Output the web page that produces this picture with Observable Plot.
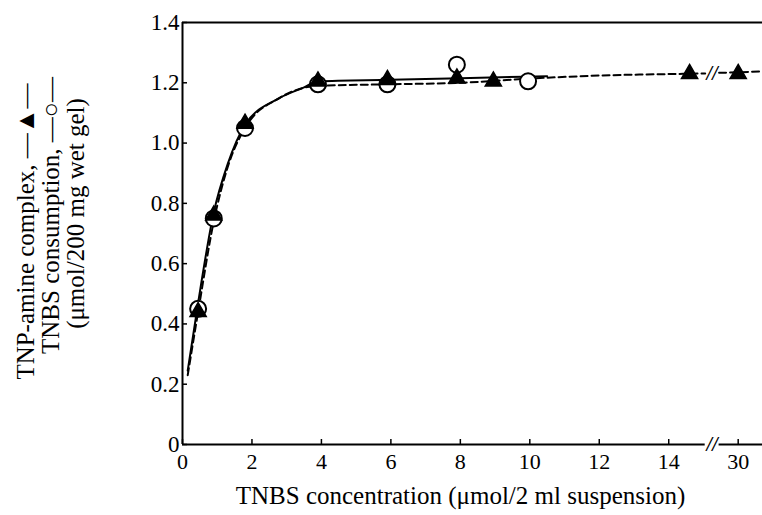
<!DOCTYPE html>
<html><head><meta charset="utf-8">
<script src="https://cdn.jsdelivr.net/npm/d3@7"></script>
<script src="https://cdn.jsdelivr.net/npm/@observablehq/plot@0.6"></script>
<style>body{margin:0;background:#fff} #chart svg{display:block}</style>
</head><body><div id="chart"></div>
<script>
// TNBS concentration (µmol / 2 ml suspension); 30 lies beyond the axis break
const circleX = [0.45, 0.9, 1.8, 3.9, 5.9, 7.9, 9.95];
const circleY = [0.45, 0.75, 1.05, 1.195, 1.195, 1.26, 1.205];
const triangleX = [0.45, 0.9, 1.8, 3.9, 5.9, 7.9, 8.95, 14.6, 30];
const triangleY = [0.44, 0.76, 1.065, 1.205, 1.21, 1.215, 1.205, 1.23, 1.23];
// fitted curves as drawn in the figure
const solidCurveX = [0.15, 0.45, 0.9, 1.3, 1.8, 2.8, 3.5, 3.9, 6, 8, 10.5];
const solidCurveY = [0.245, 0.47, 0.77, 0.93, 1.06, 1.15, 1.185, 1.205, 1.21, 1.215, 1.222];
const dashedCurveX = [0.15, 0.45, 0.9, 1.3, 1.8, 2.8, 3.9, 6, 8, 10, 12, 14.6, 15.05, 29.45, 30, 30.7];
const dashedCurveY = [0.23, 0.44, 0.74, 0.92, 1.05, 1.15, 1.19, 1.195, 1.2, 1.214, 1.224, 1.23, 1.231, 1.233, 1.235, 1.238];
const dashedSegment = [0, 0, 0, 0, 0, 0, 0, 0, 0, 0, 0, 0, 0, 1, 1, 1];
const xTicks = [0, 2, 4, 6, 8, 10, 12, 14, 30];
const yTicks = [0, 0.2, 0.4, 0.6, 0.8, 1.0, 1.2, 1.4];
const xTitle = "TNBS concentration (μmol/2 ml suspension)";
const yTitleLines = ["TNP-amine complex, —▲—", "TNBS consumption, —○—", "(μmol/200 mg wet gel)"];
const xMax = 30.7;
const breakGap = [15.05, 29.45];

// broken x axis: values beyond the break are shifted left
const brk = v => v >= 20 ? v - 14 : v;
const breakPos = (brk(breakGap[0]) + brk(breakGap[1])) / 2;

const circles = circleX.map((x, i) => ({x: brk(x), y: circleY[i]}));
const triangles = triangleX.map((x, i) => ({x: brk(x), y: triangleY[i]}));
const solid = solidCurveX.map((x, i) => ({x: brk(x), y: solidCurveY[i]}));
const dashed = dashedCurveX.map((x, i) => ({x: brk(x), y: dashedCurveY[i], z: dashedSegment[i]}));
const xAxisSegments = [{x1: 0, x2: brk(breakGap[0]), y: 0}, {x1: brk(breakGap[1]), x2: brk(xMax), y: 0}];
const breakMarks = [{x: breakPos, y: 0}, {x: breakPos, y: dashedCurveY[12]}];
const xLabel = new Map(xTicks.map(v => [brk(v), String(v)]));

const font = "'Liberation Serif', 'Times New Roman', serif";

const chart = Plot.plot({
  width: 762, height: 515,
  marginLeft: 182, marginRight: 0, marginTop: 22, marginBottom: 71,
  style: {fontFamily: font, fontSize: "22px", color: "black", background: "white", overflow: "visible"},
  x: {domain: [0, brk(xMax)]},
  y: {domain: [0, 1.4]},
  marks: [
    Plot.axisX({ticks: xTicks.map(brk), tickFormat: d => xLabel.get(d), tickSize: -5, tickPadding: 14, strokeWidth: 1.5, fontSize: 22, label: null}),
    Plot.axisY({ticks: yTicks, tickFormat: d => d === 0 ? "0" : d.toFixed(1), tickSize: -5, tickPadding: 8, strokeWidth: 1.5, fontSize: 23, label: null}),
    Plot.ruleX([0], {strokeWidth: 2}),
    Plot.ruleY([1.4], {strokeWidth: 2}),
    Plot.ruleY(xAxisSegments, {y: "y", x1: "x1", x2: "x2", strokeWidth: 2}),
    Plot.line(dashed, {x: "x", y: "y", z: "z", curve: "monotone-x", strokeWidth: 2, strokeDasharray: "7,4"}),
    Plot.line(solid, {x: "x", y: "y", curve: "monotone-x", strokeWidth: 2}),
    Plot.text(breakMarks, {x: "x", y: "y", text: () => "//", fontSize: 20, fontStyle: "italic", fontWeight: "bold"}),
    Plot.dot(circles, {x: "x", y: "y", r: 8, fill: "white", stroke: "black", strokeWidth: 2}),
    Plot.dot(triangles, {x: "x", y: "y", r: 6, symbol: "triangle", fill: "black", stroke: "black"}),
    Plot.text([xTitle], {text: d => d, frameAnchor: "bottom", dy: 51, dx: -12, fontSize: 25, lineAnchor: "middle", fill: "black"}),
    Plot.text([yTitleLines[0]], {text: d => d, frameAnchor: "left", textAnchor: "middle", rotate: -90, dx: -157, dy: -2, fontSize: 25, lineAnchor: "middle", fill: "black"}),
    Plot.text([yTitleLines[1]], {text: d => d, frameAnchor: "left", textAnchor: "middle", rotate: -90, dx: -132, dy: -18, fontSize: 25, lineAnchor: "middle", fill: "black"}),
    Plot.text([yTitleLines[2]], {text: d => d, frameAnchor: "left", textAnchor: "middle", rotate: -90, dx: -107, dy: -20, fontSize: 25, lineAnchor: "middle", fill: "black"})
  ]
});
document.getElementById("chart").append(chart);
</script>
</body></html>
